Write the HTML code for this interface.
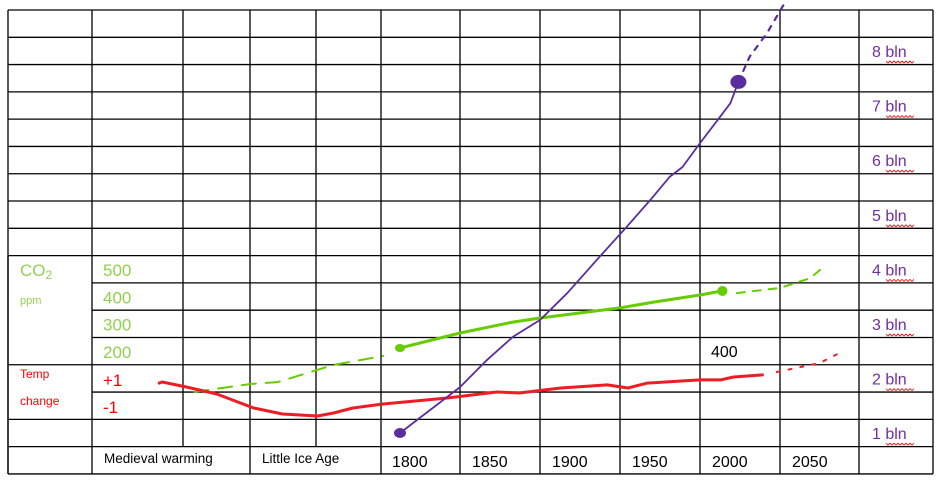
<!DOCTYPE html>
<html><head><meta charset="utf-8"><style>
html,body{margin:0;padding:0;background:#fff;}
svg{display:block;font-family:"Liberation Sans",sans-serif;}
</style></head><body>
<svg id="chart" width="946" height="484" viewBox="0 0 946 484" xmlns="http://www.w3.org/2000/svg">
<g id="grid" stroke="#000" stroke-width="1.3" fill="none"></g>
<g id="labels"></g>
<g id="series" fill="none" stroke-linecap="round" stroke-linejoin="round"></g>
</svg>
<script>
const popYears=[1787.5,1825,1842,1858,1875,1892,1912,1929,1944,1956,1964,1975,1986,1994,1999];
const popValues=[1.0,1.84,2.34,2.76,3.07,3.56,4.22,4.77,5.27,5.69,5.87,6.31,6.73,7.04,7.43];
const popProjYears=[1999,2006,2017,2028];
const popProjValues=[7.43,7.89,8.33,8.88];
const co2PastYears=[1659,1694,1711,1746,1777];
const co2PastValues=[50,79,86,149,182];
const co2Years=[1787.5,1825,1858,1875,1925,1946,1975,1989];
const co2Values=[211,266,306,321,358,379,405,420];
const co2ProjYears=[1998,2025,2044,2050];
const co2ProjValues=[412,431,467,497];
const tempYears=[1637,1639,1654,1673,1696,1714,1736,1746,1758,1777,1817,1848,1862,1888,1917,1930,1942,1975,1988,1996,2014];
const tempValues=[0.70,0.78,0.41,-0.11,-1.15,-1.59,-1.74,-1.52,-1.15,-0.85,-0.41,0.04,-0.04,0.33,0.56,0.33,0.70,0.93,0.93,1.15,1.30];
const tempProjYears=[2023,2038,2050,2061];
const tempProjValues=[1.52,1.89,2.19,2.85];
const yearTicks=["1800","1850","1900","1950","2000","2050"];
const popTicks=["8 bln","7 bln","6 bln","5 bln","4 bln","3 bln","2 bln","1 bln"];
const co2Ticks=["500","400","300","200"];

const NS="http://www.w3.org/2000/svg";
const xYear=y=>420+(y-1800)*80/50;
const yPop=p=>433-(p-1)*54.6;
const yCO2=c=>351-(c-200)*0.273;
const yTemp=t=>392.5-t*13.5;

const cols=[8,92,183,250,316,381,460,540,620,700,780,859,933];
const rows=[];for(let i=0;i<=17;i++)rows.push(10+i*27.29);
const grid=document.getElementById('grid');
function ln(x1,y1,x2,y2){const l=document.createElementNS(NS,'line');l.setAttribute('x1',x1);l.setAttribute('y1',y1);l.setAttribute('x2',x2);l.setAttribute('y2',y2);


grid.appendChild(l);}
// horizontal lines
rows.forEach((y,i)=>{
  let x0=8;
  if(i>=10&&i<=12) x0=92;       // CO2 merged cell
  if(i===14) x0=92;             // Temp merged cell
  ln(x0,y,933,y);
});
ln(8,rows[9],8,rows[17]);
// vertical lines
cols.forEach((x,ci)=>{
  if(x===183||x===316){ln(x,rows[0],x,rows[16]);}
  else ln(x,rows[0],x,rows[17]);
});

const lab=document.getElementById('labels');
function txt(s,x,y,size,fill,name,anchor){const t=document.createElementNS(NS,'text');t.setAttribute('x',x);t.setAttribute('y',y);t.setAttribute('font-size',size);t.setAttribute('fill',fill);if(anchor)t.setAttribute('text-anchor',anchor);t.textContent=s;


lab.appendChild(t);return t;}
const G="#92D050",R="#FF0000",P="#7030A0";
const co2=txt("CO",20,276,17,G,"co2-axis-title");
const sub=document.createElementNS(NS,'tspan');sub.setAttribute('font-size',12);sub.setAttribute('dy',3);sub.textContent="2";co2.appendChild(sub);
txt("ppm",20,304,11,G,"co2-unit");
co2Ticks.forEach((s,i)=>txt(s,103,276+i*27.3,17,G,"co2-tick-label"));
txt("Temp",20,378,12,R,"temp-axis-title");
txt("change",20,405,12,R,"temp-axis-title-2");
txt("+1",103,386,17,R,"temp-tick-plus1");
txt("-1",103,413,17,R,"temp-tick-minus1");
txt("Medieval warming",104,463,13.5,"#000","period-medieval-warming");
txt("Little Ice Age",262,463,13.5,"#000","period-little-ice-age");
yearTicks.forEach((s,i)=>txt(s,392+i*80,467,16,"#000","x-tick-label"));
txt("400",711,357,16,"#000","co2-annotation-400");
popTicks.forEach((s,i)=>{
  const y=57+i*54.6;
  txt(s,872,y,16,P,"population-tick-label");
  const w=document.createElementNS(NS,'path');
  let d="M886 "+(y+4);for(let k=0;k<7;k++){d+=" l2 2 l2 -2";}
  w.setAttribute('d',d);w.setAttribute('stroke',R);w.setAttribute('stroke-width','0.8');w.setAttribute('fill','none');
  
  
  lab.appendChild(w);
});

const ser=document.getElementById('series');
function poly(xs,vs,yf,color,width,dash,name){
  const p=document.createElementNS(NS,'polyline');
  p.setAttribute('points',xs.map((x,i)=>xYear(x).toFixed(1)+","+yf(vs[i]).toFixed(1)).join(" "));
  p.setAttribute('stroke',color);p.setAttribute('stroke-width',width);
  if(dash)p.setAttribute('stroke-dasharray',dash);
  
  
  ser.appendChild(p);
}
function dot(yr,v,yf,color,rx,ry,name){
  const e=document.createElementNS(NS,'ellipse');
  e.setAttribute('cx',xYear(yr));e.setAttribute('cy',yf(v));e.setAttribute('rx',rx);e.setAttribute('ry',ry);e.setAttribute('fill',color);
  
  
  ser.appendChild(e);
}
poly(co2PastYears,co2PastValues,yCO2,"#66CC00",2,"14 10","co2-past-dashed-line");
poly(co2Years,co2Values,yCO2,"#66CC00",3,null,"co2-line");
poly(co2ProjYears,co2ProjValues,yCO2,"#66CC00",2,"8 8","co2-projection-line");
dot(co2Years[0],co2Values[0],yCO2,"#66CC00",5,4,"co2-start-dot");
dot(co2Years[co2Years.length-1],co2Values[co2Values.length-1],yCO2,"#66CC00",5,5,"co2-end-dot");
poly(tempYears,tempValues,yTemp,"#EE1C25",3,null,"temperature-line");
poly(tempProjYears,tempProjValues,yTemp,"#EE1C25",2,"3 9","temperature-projection-line");
poly(popYears,popValues,yPop,"#5B2C9F",1.8,null,"population-line");
poly(popProjYears,popProjValues,yPop,"#5B2C9F",2.2,"5 7","population-projection-line");
dot(popYears[0],popValues[0],yPop,"#5B2C9F",6,5,"population-start-dot");
dot(popYears[popYears.length-1],popValues[popValues.length-1],yPop,"#5B2C9F",8,7,"population-end-dot");
</script>
</body></html>
